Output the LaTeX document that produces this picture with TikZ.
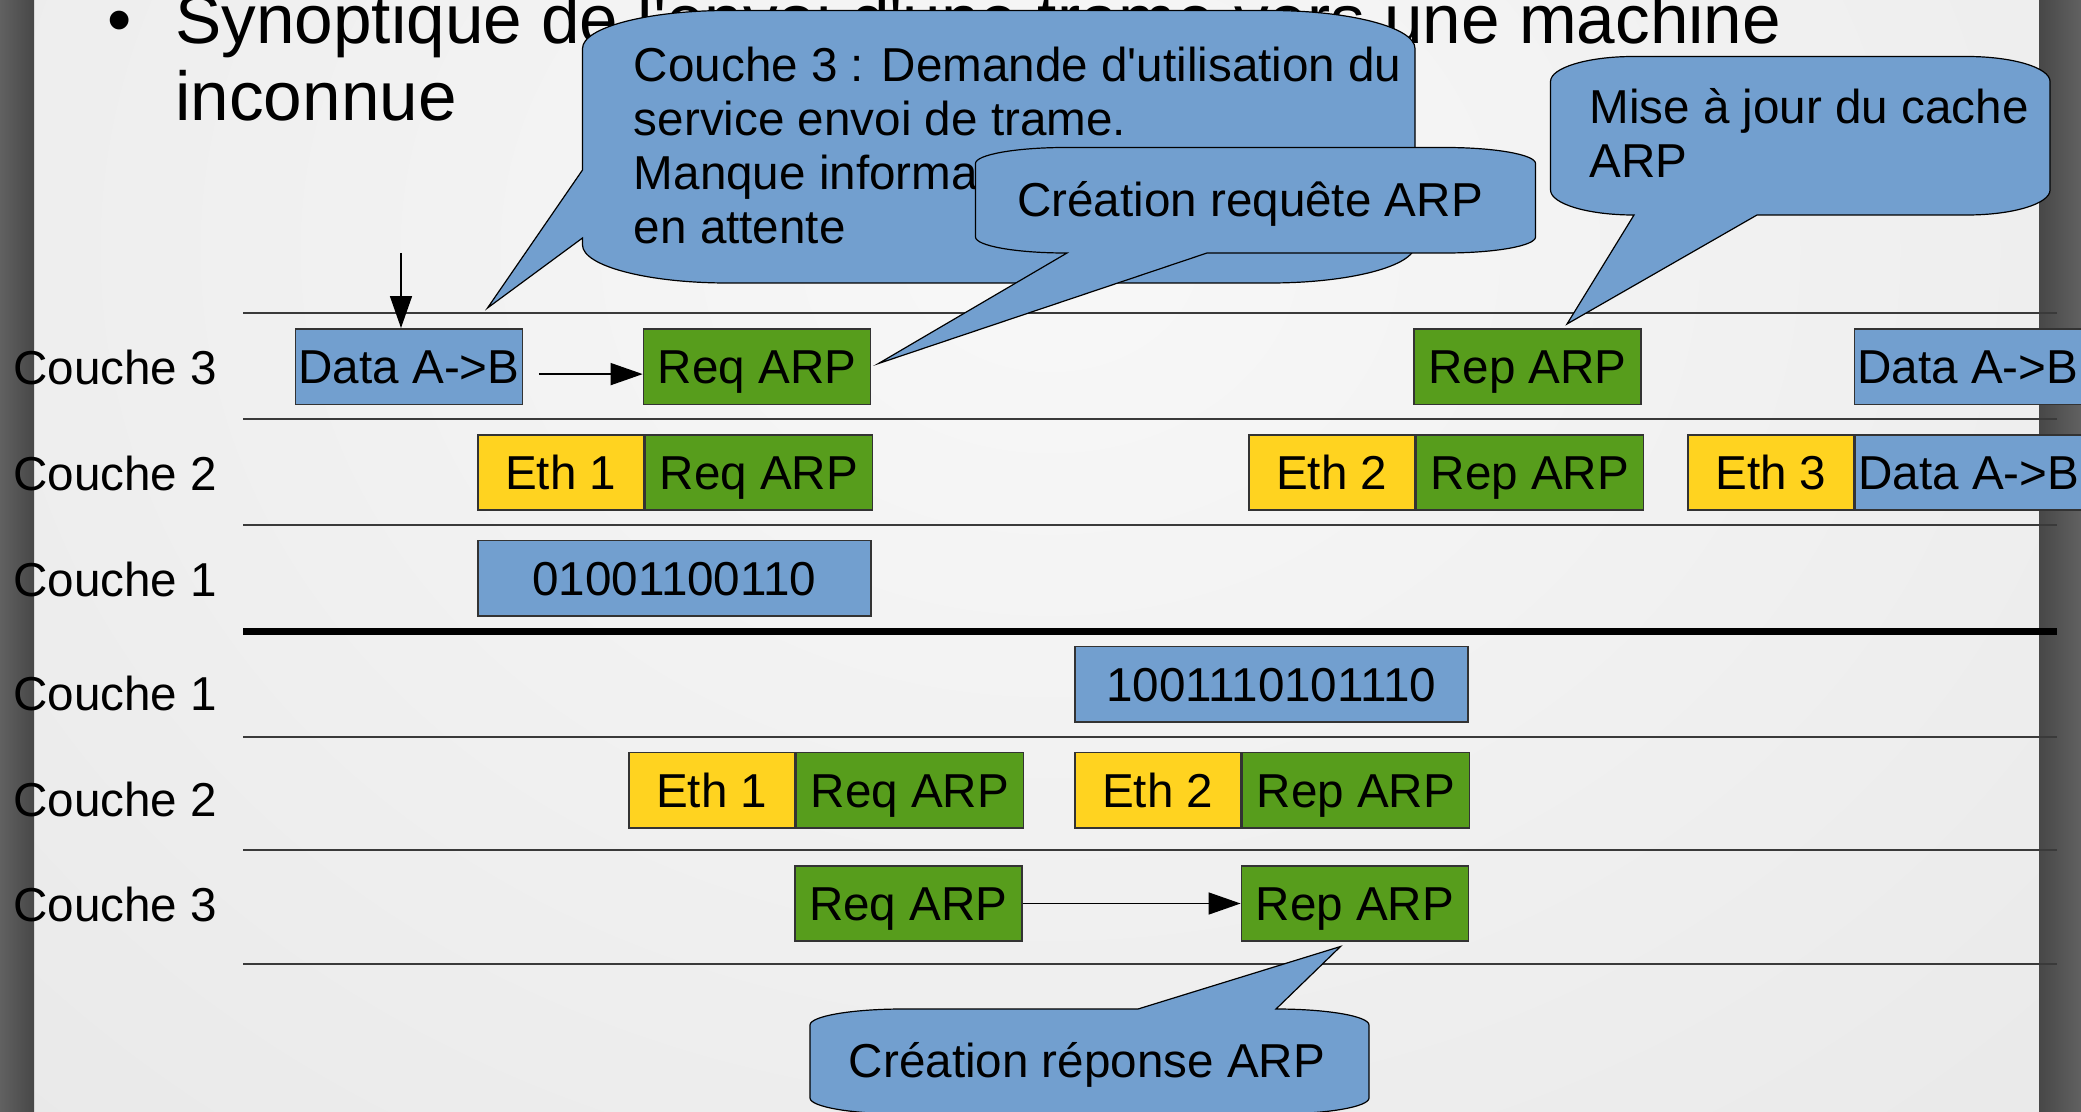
\documentclass[tikz,border=0pt]{standalone}
\usepackage{fontspec}
\newfontfamily\slidefont{Liberation Sans}
\usetikzlibrary{arrows.meta}

\definecolor{datablue}{HTML}{729FCF}
\definecolor{arpgreen}{HTML}{579D1C}
\definecolor{ethyellow}{HTML}{FFD320}
\definecolor{pktline}{HTML}{333333}
\definecolor{rowline}{HTML}{3A3A3A}
\definecolor{bgin}{HTML}{F8F8F8}
\definecolor{bgout}{HTML}{D8D8D8}

\tikzset{
  txt/.style={font=\slidefont\fontsize{23.8}{27}\selectfont, inner sep=0pt},
  pkt/.style={txt, draw=pktline, line width=0.8pt, minimum height=37.75pt,
              text height=16.8pt, text depth=0pt},
  eth/.style={pkt, minimum width=83pt, fill=ethyellow},
  arp/.style={pkt, minimum width=113.5pt, fill=arpgreen},
  dat/.style={pkt, minimum width=113.5pt, fill=datablue},
  bits/.style={pkt, minimum width=196.5pt, fill=datablue},
  layer/.style={txt, anchor=base west},
  rowsep/.style={draw=rowline, line width=0.75pt},
  arr/.style={line width=0.75pt, -{Triangle[length=16pt,width=11pt]}},
  bubble/.style={fill=datablue, draw=black, line width=0.6pt},
}

\begin{document}
\begin{tikzpicture}[x=0.5pt,y=-0.5pt]
\useasboundingbox (0,0) rectangle (2081,1112);

% slide background and side shadows
\begin{scope}
  \clip (34,0) rectangle (2039,1112);
  \shade[inner color=bgin, outer color=bgout] (-2150,-2350) rectangle (4250,2850);
\end{scope}
\shade[left color=black!62, right color=black!72] (0,0) rectangle (34,1112);
\shade[left color=black!72, right color=black!62] (2039,0) rectangle (2081,1112);

% title (multi-line nodes are anchored on their last baseline)
\node[anchor=base west, inner sep=0pt, font=\slidefont\fontsize{34.65}{38.5}\selectfont]
  (bullet) at (107,44) {•};
\node[anchor=base west, align=left, inner sep=0pt, font=\slidefont\fontsize{34.65}{38.5}\selectfont]
  (title) at (175,121) {Synoptique de l'envoi d'une trame vers une machine\\inconnue};

% layer separators
\draw[rowsep] (243,313) -- (2057,313);
\draw[rowsep] (243,419) -- (2057,419);
\draw[rowsep] (243,525) -- (2057,525);
\draw[line width=3.5pt] (243,631) -- (2057,631);
\draw[rowsep] (243,737) -- (2057,737);
\draw[rowsep] (243,850) -- (2057,850);
\draw[rowsep] (243,964) -- (2057,964);

% layer labels
\node[layer] (la3) at (13,384.3) {Couche 3};
\node[layer] (la2) at (13,490.7) {Couche 2};
\node[layer] (la1) at (13,596) {Couche 1};
\node[layer] (lb1) at (13,710) {Couche 1};
\node[layer] (lb2) at (13,816) {Couche 2};
\node[layer] (lb3) at (13,921.7) {Couche 3};

% sender, layer 3
\node[dat] (d1) at (409,366.6) {Data A->B};
\node[arp] (q1) at (757,366.6) {Req ARP};
\node[arp] (p1) at (1527.5,366.6) {Rep ARP};
\node[dat, anchor=west] (d3) at (1853.5,366.6) {Data A->B};

% sender, layer 2
\node[eth, anchor=west] (e1) at (477,472.5) {Eth 1};
\node[arp, anchor=west] (q2) at (e1.east) {Req ARP};
\node[eth, anchor=west] (e2) at (1248,472.5) {Eth 2};
\node[arp, anchor=west] (p2) at (e2.east) {Rep ARP};
\node[eth, anchor=west] (e3) at (1687,472.5) {Eth 3};
\node[dat, anchor=west] (d4) at (e3.east) {Data A->B};

% sender, layer 1
\node[bits, anchor=west] (b1) at (477,578.2) {01001100110};

% receiver, layer 1
\node[bits, anchor=west] (b2) at (1074,684.3) {1001110101110};

% receiver, layer 2
\node[eth, anchor=west] (e4) at (628,790.3) {Eth 1};
\node[arp, anchor=west] (q5) at (e4.east) {Req ARP};
\node[eth, anchor=west] (e5) at (1074,790.3) {Eth 2};
\node[arp, anchor=west] (p5) at (e5.east) {Rep ARP};

% receiver, layer 3
\node[arp, anchor=west] (q6) at (794,903.5) {Req ARP};
\node[arp, anchor=west] (p6) at (1240.6,903.5) {Rep ARP};

% arrows
\coordinate (src) at (401,253);
\draw[arr] (src) -- (src |- d1.north);
\draw[arr] ([shift={(15.6,7.5)}]d1.east) -- ([shift={(0,7.5)}]q1.west);
\draw[arr] (q6.east) -- (p6.west);

% callout: layer 3 request
\path[bubble] (727.5,10.5) -- (1270,10.5)
  .. controls (1350.1,10.5) and (1415,27.5) .. (1415,48.5) -- (1415,245)
  .. controls (1415,266) and (1350.1,283) .. (1270,283) -- (727.5,283)
  .. controls (647.4,283) and (582.5,266) .. (582.5,245) -- (582.5,238)
  -- (487.5,308) -- (582.5,170) -- (582.5,48.5)
  .. controls (582.5,27.5) and (647.4,10.5) .. (727.5,10.5) -- cycle;
\node[txt, anchor=base west, align=left] (t1) at (633.5,244)
  {Couche 3 : Demande d'utilisation du\\service envoi de trame.\\Manque informa\\en attente};

% callout: ARP request creation
\path[bubble] (1065.5,147.5) -- (1445.5,147.5)
  .. controls (1495.2,147.5) and (1535.5,154.7) .. (1535.5,163.5) -- (1535.5,237)
  .. controls (1535.5,245.8) and (1495.2,253) .. (1445.5,253) -- (1207,253)
  -- (878.5,363.5) -- (1067,253) -- (1065.5,253)
  .. controls (1015.8,253) and (975.5,245.8) .. (975.5,237) -- (975.5,163.5)
  .. controls (975.5,154.7) and (1015.8,147.5) .. (1065.5,147.5) -- cycle;
\node[txt, anchor=base] (t2) at (1250,216.7) {Création requête ARP};

% callout: ARP cache update
\path[bubble] (1633.5,56.5) -- (1967,56.5)
  .. controls (2012.8,56.5) and (2050,67.7) .. (2050,81.5) -- (2050,190)
  .. controls (2050,203.8) and (2012.8,215) .. (1967,215) -- (1757,215)
  -- (1567,324) -- (1634,215) -- (1633.5,215)
  .. controls (1587.7,215) and (1550.5,203.8) .. (1550.5,190) -- (1550.5,81.5)
  .. controls (1550.5,67.7) and (1587.7,56.5) .. (1633.5,56.5) -- cycle;
\node[txt, anchor=base west, align=left] (t3) at (1589,178) {Mise à jour du cache\\ARP};

% callout: ARP reply creation
\path[bubble] (903,1009) -- (1138,1009) -- (1340.5,946.5) -- (1276,1009)
  .. controls (1327.4,1009) and (1369,1016.2) .. (1369,1025) -- (1369,1098)
  .. controls (1369,1106.8) and (1327.4,1114) .. (1276,1114) -- (903,1114)
  .. controls (851.6,1114) and (810,1106.8) .. (810,1098) -- (810,1025)
  .. controls (810,1016.2) and (851.6,1009) .. (903,1009) -- cycle;
\node[txt, anchor=base] (t4) at (1087,1077) {Création réponse ARP};

\end{tikzpicture}
\end{document}
